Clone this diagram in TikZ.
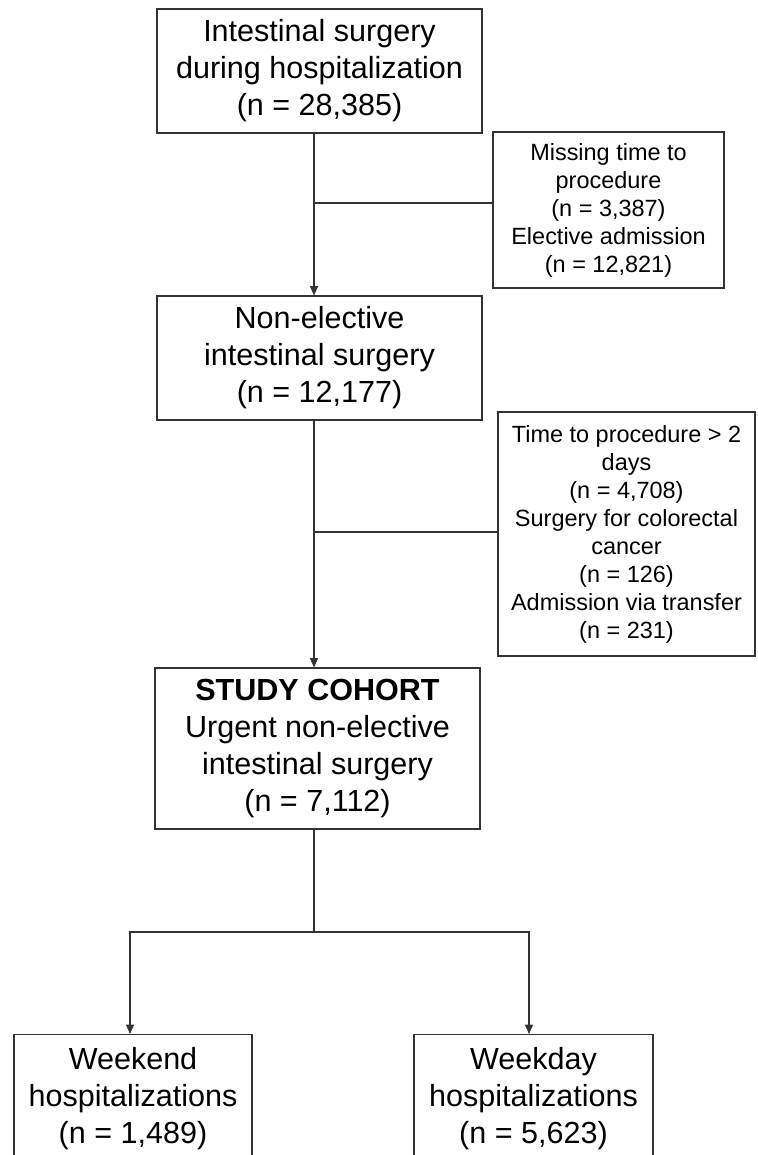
\documentclass[tikz,border=0pt]{standalone}
\usepackage{fontspec}
\setmainfont{Liberation Sans}
\usetikzlibrary{arrows.meta}

\begin{document}
\begin{tikzpicture}[x=0.75pt, y=-0.75pt,
    conn/.style={draw=black!80, line width=0.8pt},
    arr/.style={conn, -{Triangle[length=7pt, width=6pt]}},
    mainbox/.style={draw=black!80, line width=0.8pt, align=center, inner sep=0pt,
        font=\fontsize{22.9}{27.75}\selectfont},
    sidebox/.style={draw=black!80, line width=0.8pt, align=center, inner sep=0pt,
        font=\fontsize{17.6}{21}\selectfont}]
    \clip (0, 0) rectangle (757, 1155);
    % boxes of the main column
    \node[mainbox, minimum width=243.75pt, minimum height=93pt] (surgery) at (319.5, 71)
        {Intestinal surgery\\during hospitalization\\(n = 28,385)};
    \node[mainbox, minimum width=243.75pt, minimum height=93pt] (nonelective) at (319.5, 358)
        {Non-elective\\intestinal surgery\\(n = 12,177)};
    \node[mainbox, minimum width=243.75pt, minimum height=120.75pt] (cohort) at (317.5, 748.5)
        {\textbf{STUDY COHORT}\\Urgent non-elective\\intestinal surgery\\(n = 7,112)};
    % exclusions
    \node[sidebox, minimum width=173.25pt, minimum height=117pt] (excl1) at (608.5, 210)
        {Missing time to\\procedure\\(n = 3,387)\\Elective admission\\(n = 12,821)};
    \node[sidebox, minimum width=192.75pt, minimum height=183pt] (excl2) at (626.5, 534)
        {Time to procedure > 2\\days\\(n = 4,708)\\Surgery for colorectal\\cancer\\(n = 126)\\Admission via transfer\\(n = 231)};
    % groups
    \node[mainbox, anchor=north, minimum width=178.5pt, minimum height=96pt] (weekend) at (133, 1034)
        {Weekend\\hospitalizations\\(n = 1,489)};
    \node[mainbox, anchor=north, minimum width=179.25pt, minimum height=96pt] (weekday) at (533.5, 1034)
        {Weekday\\hospitalizations\\(n = 5,623)};
    % junctions
    \coordinate (j1) at (314, 203);
    \coordinate (j2) at (314, 532);
    \coordinate (fork) at (314, 932);
    \coordinate (forkl) at (130, 932);
    \coordinate (forkr) at (529, 932);
    \draw[arr] (surgery.south -| j1) -- (nonelective.north -| j1);
    \draw[conn] (j1) -- (excl1.west |- j1);
    \draw[arr] (nonelective.south -| j2) -- (cohort.north -| j2);
    \draw[conn] (j2) -- (excl2.west |- j2);
    \draw[conn] (cohort.south -| fork) -- (fork);
    \draw[arr] (fork) -- (forkl) -- (weekend.north -| forkl);
    \draw[arr] (fork) -- (forkr) -- (weekday.north -| forkr);
\end{tikzpicture}
\end{document}
